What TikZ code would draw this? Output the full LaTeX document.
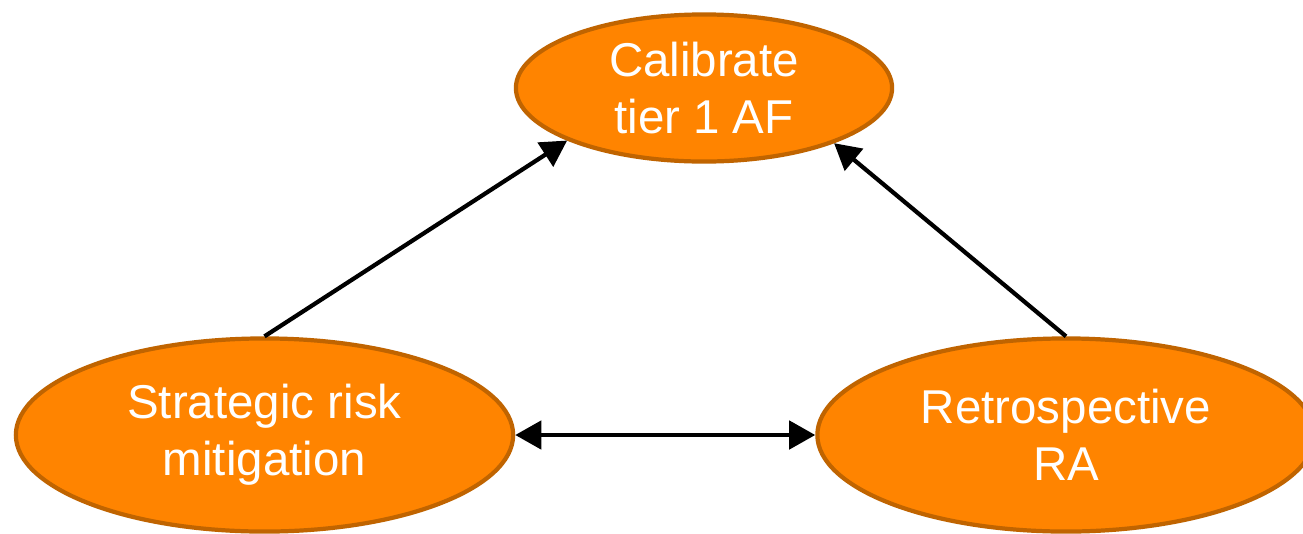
\documentclass[tikz,border=0pt]{standalone}
\usepackage{fontspec}
\setmainfont{Liberation Sans}
\usetikzlibrary{shapes.geometric,arrows.meta}
\definecolor{fillor}{HTML}{FF8400}
\definecolor{edgeor}{HTML}{C06400}
\tikzset{
  oval/.style={ellipse, draw=edgeor, fill=fillor, line width=1.2pt, inner sep=0pt,
    text=white, align=center, font=\fontsize{13.5}{16.2}\selectfont},
  conn/.style={line width=1.2pt, draw=black, -{Triangle[length=7.4pt,width=8pt]}},
  dconn/.style={line width=1.2pt, draw=black, {Triangle[length=7.4pt,width=8pt]}-{Triangle[length=7.4pt,width=8pt]}}
}
\begin{document}
\begin{tikzpicture}[x=0.01cm,y=-0.01cm]
\clip (0,0) rectangle (1303,533);
\fill[white] (0,0) rectangle (1303,533);
\node[oval, minimum width=3.76cm, minimum height=1.47cm] (T) at (704,88) {Calibrate\\tier 1 AF};
\node[oval, minimum width=4.97cm, minimum height=1.93cm] (L) at (264.5,435) {Strategic risk\\mitigation};
\node[oval, minimum width=4.97cm, minimum height=1.93cm] (R) at (1066,435) {Retrospective\\RA};
\draw[conn] (L.north) -- (T.201.6);
\draw[conn] (R.north) -- (T.337.7);
\draw[dconn] (L.east) -- (R.west);
\end{tikzpicture}
\end{document}
